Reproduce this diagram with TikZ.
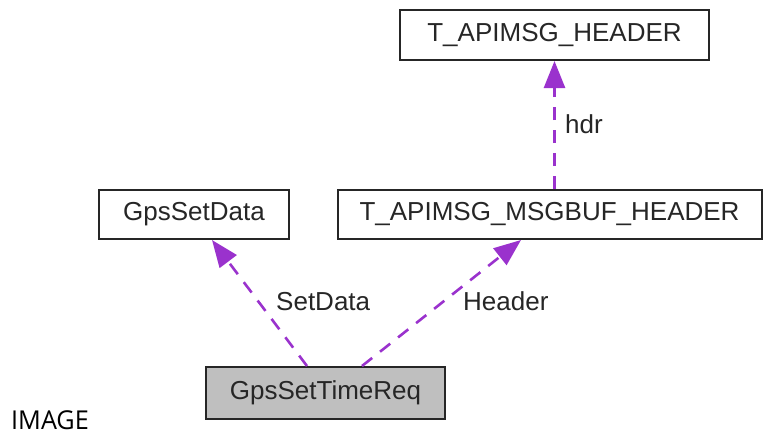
\documentclass[tikz,border=0pt]{standalone}
\usepackage{fontspec}
\setmainfont{Liberation Sans}
\newfontfamily\captionfont{Open Sans}
\usetikzlibrary{arrows.meta,calc}

\definecolor{edgepurple}{HTML}{9A32CD}
\definecolor{boxgrey}{HTML}{BFBFBF}

\tikzset{
  classbox/.style={draw=black!85, line width=2pt, fill=white, inner sep=0pt,
    font=\fontsize{26}{30}\selectfont, text=black!85},
  mainbox/.style={classbox, fill=boxgrey},
  usage/.style={draw=edgepurple, line width=2.6pt, dash pattern=on 13pt off 10pt,
    -{Triangle[length=27pt,width=21pt]}, color=edgepurple},
  edgelabel/.style={inner sep=0pt, anchor=base west,
    font=\fontsize{26}{30}\selectfont, text=black!85},
}

\begin{document}
\begin{tikzpicture}[x=1pt,y=-1pt]
  \useasboundingbox (0,0) rectangle (763,434);

  % class boxes
  \node[classbox, minimum width=309pt, minimum height=50pt] (apihdr) at (554.5,35) {T\_APIMSG\_HEADER};
  \node[classbox, minimum width=190pt, minimum height=49pt] (setdata) at (194,214.5) {GpsSetData};
  \node[classbox, minimum width=424pt, minimum height=49pt] (msgbuf) at (549.5,214.5) {T\_APIMSG\_MSGBUF\_HEADER};
  \node[mainbox, minimum width=239pt, minimum height=52pt] (req) at (325.5,393) {GpsSetTimeReq};

  % usage relations
  \draw[usage] ($(req.north)+(-18.5,0)$) -- ($(setdata.south)+(18,0)$);
  \draw[usage] ($(req.north)+(36.5,0)$) -- ($(msgbuf.south)+(-28.5,0)$);
  \draw[usage] (msgbuf.north -| apihdr.south) -- (apihdr.south);

  % relation labels
  \node[edgelabel] (lblsetdata) at (276,310) {SetData};
  \node[edgelabel] (lblheader) at (463,310) {Header};
  \node[edgelabel] (lblhdr) at (565,133) {hdr};

  % caption
  \node[inner sep=0pt, anchor=base west, text depth=0pt, xscale=0.97,
    font=\captionfont\fontsize{26}{30}\selectfont] (caption) at (11,429) {IMAGE};
\end{tikzpicture}
\end{document}
